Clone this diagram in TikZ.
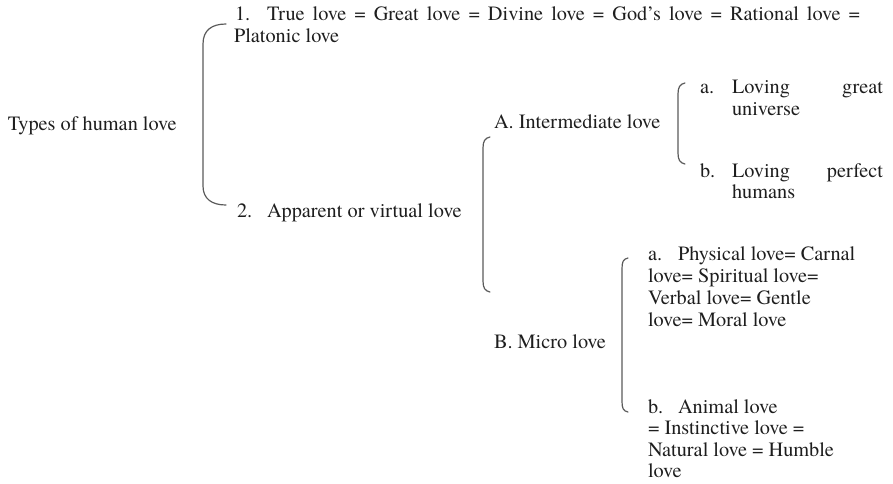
\documentclass[tikz,border=0pt]{standalone}
\usepackage{fontspec}
\setmainfont{TeX Gyre Termes}
\definecolor{txt}{HTML}{1E1E1E}
\definecolor{brc}{HTML}{5A5A5A}
\begin{document}
\begin{tikzpicture}[x=1pt,y=-1pt,
  lbl/.style={inner sep=0pt, outer sep=0pt, anchor=base west, text=txt,
    font=\fontsize{20.3}{21.7}\selectfont},
  brace/.style={draw=brc, line width=1.2pt, line cap=round}]
\useasboundingbox (0,0) rectangle (893,483);
% level 0
\node[lbl] (root) at (8,130) {Types of human love};
% level 1
\node[lbl] (n1) at (235,20) {1.};
\node[lbl] (t1) at (267,20) {\makebox[593pt][s]{True love = Great love = Divine love = God’s love = Rational love =}};
\node[lbl] (t1b) at (234,42) {Platonic love};
\node[lbl] (n2) at (237,217) {2.};
\node[lbl] (t2) at (267,217) {Apparent or virtual love};
% level 2
\node[lbl] (A) at (494,128) {A. Intermediate love};
\node[lbl] (B) at (494,348) {B. Micro love};
% level 3 under A
\node[lbl] (Aa) at (700,93) {a.};
\node[lbl] (Aat) at (732,93) {\makebox[151pt][s]{Loving great}};
\node[lbl] (Aat2) at (732,115) {universe};
\node[lbl] (Ab) at (700,177) {b.};
\node[lbl] (Abt) at (732,177) {\makebox[151pt][s]{Loving perfect}};
\node[lbl] (Abt2) at (732,198) {humans};
% level 3 under B
\node[lbl] (Ba) at (648,260) {a.};
\node[lbl] (Bat) at (678,260) {Physical love= Carnal};
\node[lbl] (Bat2) at (648,282) {love= Spiritual love=};
\node[lbl] (Bat3) at (648,304) {Verbal love= Gentle};
\node[lbl] (Bat4) at (648,326) {love= Moral love};
\node[lbl] (Bb) at (648,413) {b.};
\node[lbl] (Bbt) at (678,413) {Animal love};
\node[lbl] (Bbt2) at (648,434) {= Instinctive love =};
\node[lbl] (Bbt3) at (648,456) {Natural love = Humble};
\node[lbl] (Bbt4) at (648,477) {love};
% brackets
\coordinate (b1t) at (226,24);
\coordinate (b1b) at (226,205);
\draw[brace] (b1t) .. controls (212,24) and (203,30) .. (203,44)
  -- (203,186) .. controls (203,199) and (212,205) .. (b1b);
\coordinate (b2t) at (490,137);
\coordinate (b2b) at (490,292);
\draw[brace] (b2t) .. controls (485,138) and (483,141) .. (483,148)
  -- (483,281) .. controls (483,288) and (485,291) .. (b2b);
\coordinate (b3t) at (685,83);
\coordinate (b3b) at (685,164);
\draw[brace] (b3t) .. controls (680,84) and (678,87) .. (678,94)
  -- (678,153) .. controls (678,160) and (680,163) .. (b3b);
\coordinate (b4t) at (628,258);
\coordinate (b4b) at (628,412);
\draw[brace] (b4t) .. controls (623,259) and (622,262) .. (622,269)
  -- (622,401) .. controls (622,408) and (623,411) .. (b4b);
\end{tikzpicture}
\end{document}
